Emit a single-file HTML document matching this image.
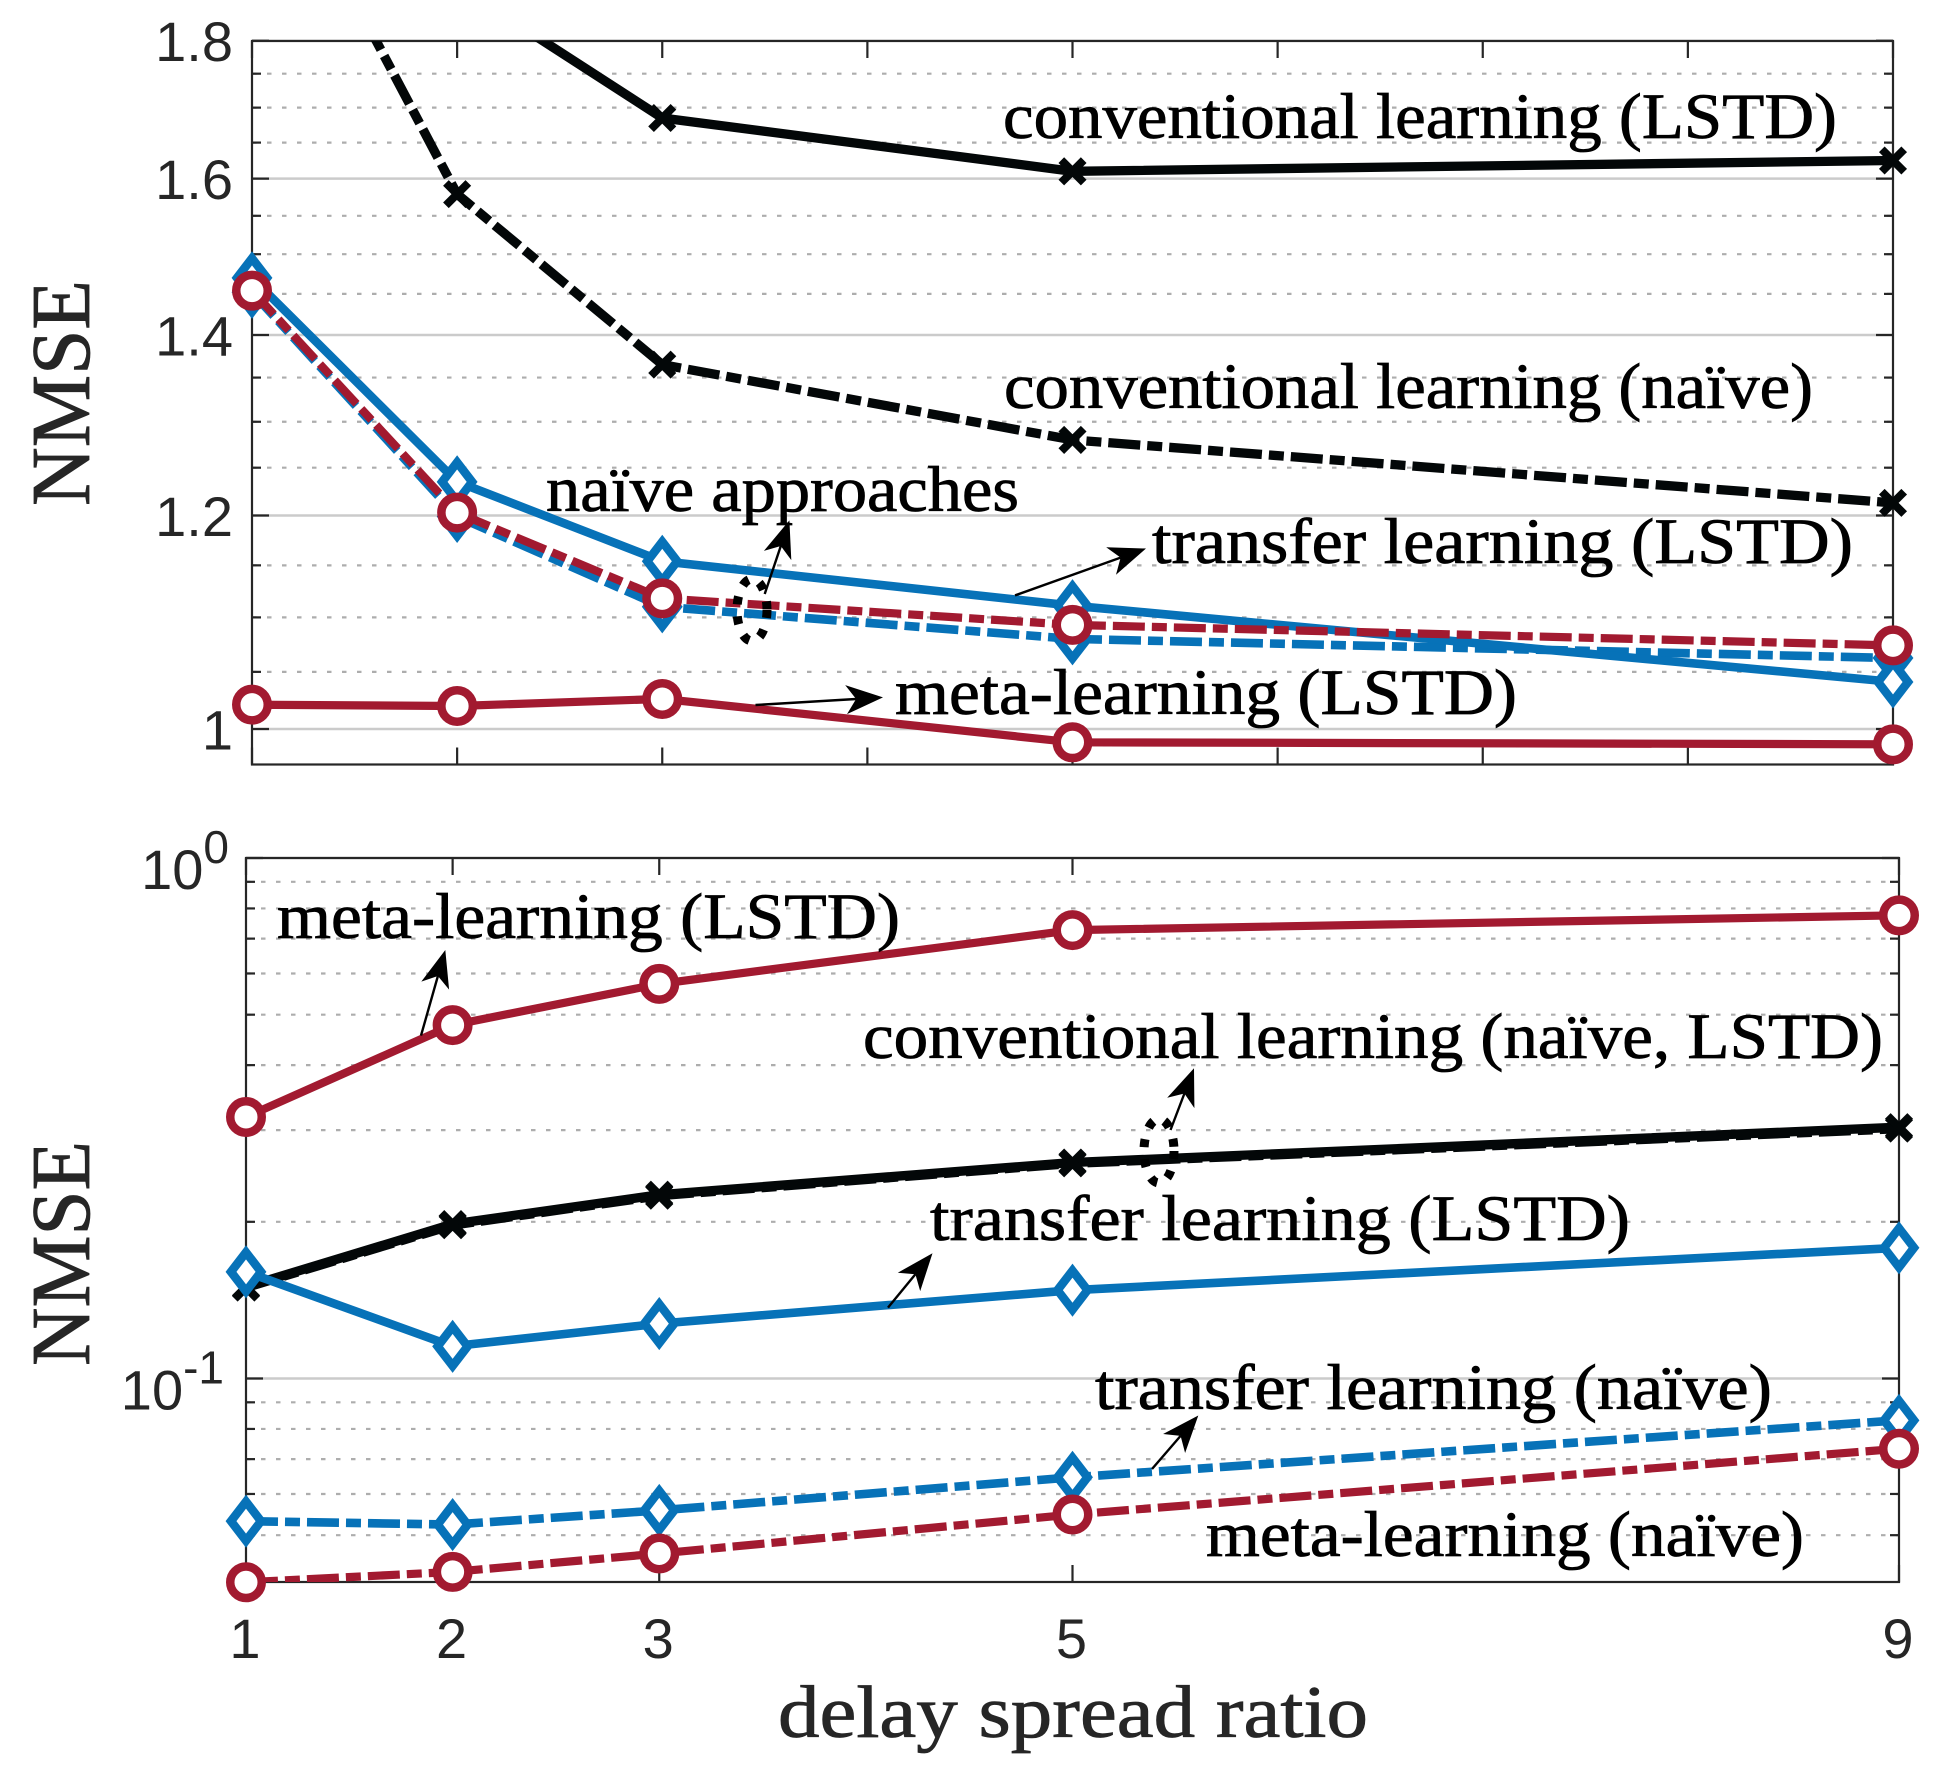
<!DOCTYPE html>
<html lang="en">
<head>
<meta charset="utf-8">
<title>NMSE vs delay spread ratio</title>
<style>
html,body{margin:0;padding:0;background:#fff;}
svg{display:block;}
.cm{font-family:"Liberation Serif","DejaVu Serif",serif;fill:#000;stroke:#000;stroke-width:0.8px;}
.cm-ax{font-family:"Liberation Serif","DejaVu Serif",serif;fill:#262626;stroke:#262626;stroke-width:0.8px;}
.tk{font-family:"Liberation Sans",Arial,sans-serif;fill:#262626;font-size:56px;}
</style>
</head>
<body>
<svg id="chart" xmlns="http://www.w3.org/2000/svg" width="1934" height="1767" viewBox="0 0 1934 1767">
  <rect x="0" y="0" width="1934" height="1767" fill="#ffffff"/>
  <defs>
    <clipPath id="clip-top"><rect x="252" y="41" width="1641" height="724"/></clipPath>
    <clipPath id="clip-bottom"><rect x="246" y="858" width="1653" height="724"/></clipPath>
  </defs>
  <g id="top-panel"></g>
  <g id="bottom-panel"></g>

  <text class="cm-ax" transform="translate(89,506) rotate(-90)" font-size="84" textLength="226" lengthAdjust="spacingAndGlyphs">NMSE</text>
  <text class="cm-ax" transform="translate(89,1366) rotate(-90)" font-size="84" textLength="225" lengthAdjust="spacingAndGlyphs">NMSE</text>
  <text class="cm-ax" x="778" y="1737" font-size="74" textLength="590" lengthAdjust="spacingAndGlyphs">delay spread ratio</text>

  <g>
    <text class="cm" x="1003" y="138" font-size="65" textLength="834" lengthAdjust="spacingAndGlyphs">conventional learning (LSTD)</text>
    <text class="cm" x="1004" y="408" font-size="65" textLength="809" lengthAdjust="spacingAndGlyphs">conventional learning (naïve)</text>
    <text class="cm" x="546" y="511" font-size="65" textLength="473" lengthAdjust="spacingAndGlyphs">naïve approaches</text>
    <text class="cm" x="1152" y="563" font-size="65" textLength="701" lengthAdjust="spacingAndGlyphs">transfer learning (LSTD)</text>
    <text class="cm" x="895" y="714" font-size="65" textLength="622" lengthAdjust="spacingAndGlyphs">meta-learning (LSTD)</text>

    <ellipse cx="752" cy="610" rx="15" ry="31" fill="none" stroke="#000" stroke-width="9" stroke-dasharray="8 12"/>
    <g>
      <line x1="764.7" y1="594" x2="780.8" y2="546" stroke="#000" stroke-width="2.4"/>
      <polygon points="789.4,520.4 791.3,560.1 780.8,546 763.9,550.9" fill="#000"/>
    </g>
    <g>
      <line x1="755.5" y1="705" x2="856.1" y2="699" stroke="#000" stroke-width="2.4"/>
      <polygon points="883,697.4 847,714.1 856.1,699 845.2,685.1" fill="#000"/>
    </g>
    <g>
      <line x1="1015" y1="595.4" x2="1120.6" y2="557.6" stroke="#000" stroke-width="2.4"/>
      <polygon points="1146,548.5 1116,574.7 1120.6,557.6 1106.2,547.3" fill="#000"/>
    </g>
  </g>

  <g>
    <text class="cm" x="277" y="938" font-size="65" textLength="623" lengthAdjust="spacingAndGlyphs">meta-learning (LSTD)</text>
    <text class="cm" x="863" y="1058" font-size="65" textLength="1020" lengthAdjust="spacingAndGlyphs">conventional learning (naïve, LSTD)</text>
    <text class="cm" x="930" y="1240" font-size="65" textLength="700" lengthAdjust="spacingAndGlyphs">transfer learning (LSTD)</text>
    <text class="cm" x="1095" y="1409" font-size="65" textLength="677" lengthAdjust="spacingAndGlyphs">transfer learning (naïve)</text>
    <text class="cm" x="1206" y="1556" font-size="65" textLength="598" lengthAdjust="spacingAndGlyphs">meta-learning (naïve)</text>

    <ellipse cx="1159" cy="1151" rx="15" ry="32" fill="none" stroke="#000" stroke-width="9" stroke-dasharray="8 12"/>
    <g>
      <line x1="421" y1="1035.6" x2="437.9" y2="976" stroke="#000" stroke-width="2.4"/>
      <polygon points="445.3,950 449.1,989.6 437.9,976 421.3,981.6" fill="#000"/>
    </g>
    <g>
      <line x1="1170.5" y1="1130" x2="1184.4" y2="1093.5" stroke="#000" stroke-width="2.4"/>
      <polygon points="1194,1068.3 1194.4,1108.1 1184.4,1093.5 1167.2,1097.7" fill="#000"/>
    </g>
    <g>
      <line x1="888" y1="1307.6" x2="915.4" y2="1274.2" stroke="#000" stroke-width="2.4"/>
      <polygon points="932.5,1253.3 920.2,1291.1 915.4,1274.2 897.8,1272.7" fill="#000"/>
    </g>
    <g>
      <line x1="1152" y1="1469" x2="1180.6" y2="1435.9" stroke="#000" stroke-width="2.4"/>
      <polygon points="1198.3,1415.5 1185.1,1453 1180.6,1435.9 1163.1,1434" fill="#000"/>
    </g>
  </g>
</svg>

<script>
// ---------- shared categories ----------
const delayRatios = [1, 2, 3, 5, 9];

// ---------- top panel data (linear NMSE values) ----------
const topXTicks = [1, 2, 3, 4, 5, 6, 7, 8, 9];
const topYMajor = [1, 1.2, 1.4, 1.6, 1.8];
const topYMajorLabels = ['1', '1.2', '1.4', '1.6', '1.8'];
const topYMinor = [1.05, 1.1, 1.15, 1.25, 1.3, 1.35, 1.45, 1.5, 1.55, 1.65, 1.7, 1.75];
const topConventionalLstd = [2.6, 1.887, 1.685, 1.61, 1.625];
const topConventionalNaive = [2.2, 1.579, 1.365, 1.28, 1.213];
const topTransferNaive = [1.452, 1.199, 1.11, 1.08, 1.0625];
const topTransferLstd = [1.47, 1.235, 1.154, 1.111, 1.041];
const topMetaNaive = [1.454, 1.203, 1.118, 1.093, 1.074];
const topMetaLstd = [1.021, 1.0198, 1.026, 0.9887, 0.987];

// ---------- bottom panel data ----------
const bottomXLabels = ['1', '2', '3', '5', '9'];
const bottomYMajor = [1, 0.1];
const bottomYExponents = ['0', '-1'];
const bottomYMinor = [0.9, 0.8, 0.7, 0.6, 0.5, 0.4, 0.3, 0.2, 0.09, 0.08, 0.07, 0.06, 0.05];
const bottomConventionalNaive = [0.1495, 0.197, 0.2245, 0.259, 0.302];
const bottomConventionalLstd = [0.15, 0.198, 0.2255, 0.26, 0.304];
const bottomTransferLstd = [0.1603, 0.1153, 0.1275, 0.1478, 0.1783];
const bottomTransferNaive = [0.0532, 0.0524, 0.0558, 0.0646, 0.0831];
const bottomMetaLstd = [0.318, 0.4775, 0.573, 0.727, 0.776];
const bottomMetaNaive = [0.0406, 0.0425, 0.0461, 0.0548, 0.0733];

// ---------- axis functions ----------
const topBox = {l: 252, r: 1893, t: 41, b: 764.5};
const botBox = {l: 246, r: 1899, t: 858, b: 1582};
function xTop(v) { return topBox.l + (v - 1) * (topBox.r - topBox.l) / 8; }
function yTop(v) { return 729 - 1171 * Math.log(v); }
function xBot(v) { return botBox.l + (v - 1) * (botBox.r - botBox.l) / 8; }
function yBot(v) { return botBox.t - 520.5 * Math.log10(v); }

const NS = 'http://www.w3.org/2000/svg';
const AXIS = '#262626', BLUE = '#0772b8', RED = '#a21a30', BLACK = '#030708';
const DASHDOT = '32 7 15 7';

function mk(tag, attrs, parent) {
  const el = document.createElementNS(NS, tag);
  for (const k in attrs) el.setAttribute(k, attrs[k]);
  parent.appendChild(el);
  return el;
}

function drawFrame(g, box, name, xTicks, xFn, yMajor, yMinor, yFn) {
  yMinor.forEach(function (v) {
    const el = mk('line', {x1: box.l, x2: box.r, y1: yFn(v), y2: yFn(v), stroke: '#adadad', 'stroke-width': 2.2, 'stroke-dasharray': '4.5 10.5'}, g);
    
    
  });
  yMajor.forEach(function (v) {
    const el = mk('line', {x1: box.l, x2: box.r, y1: yFn(v), y2: yFn(v), stroke: '#cbcbcb', 'stroke-width': 2.4}, g);
    
    
  });
  const frame = mk('rect', {x: box.l, y: box.t, width: box.r - box.l, height: box.b - box.t, fill: 'none', stroke: AXIS, 'stroke-width': 2.2}, g);
  
  
  xTicks.forEach(function (v) {
    const t1 = mk('line', {x1: xFn(v), x2: xFn(v), y1: box.b, y2: box.b - 17, stroke: AXIS, 'stroke-width': 2.2}, g);
    
    
    const t2 = mk('line', {x1: xFn(v), x2: xFn(v), y1: box.t, y2: box.t + 17, stroke: AXIS, 'stroke-width': 2.2}, g);
    
    
  });
  function yTick(v, len, kind) {
    const a = mk('line', {x1: box.l, x2: box.l + len, y1: yFn(v), y2: yFn(v), stroke: AXIS, 'stroke-width': 2.2}, g);
    
    
    const b = mk('line', {x1: box.r, x2: box.r - len, y1: yFn(v), y2: yFn(v), stroke: AXIS, 'stroke-width': 2.2}, g);
    
    
  }
  yMajor.forEach(function (v) { yTick(v, 17, 'major'); });
  yMinor.forEach(function (v) { yTick(v, 9, 'minor'); });
}

function drawSeries(g, box, clip, name, xs, ys, xFn, yFn, color, dashed, marker) {
  const lw = marker === 'x' ? 9.3 : (marker === 'diamond' ? 8.6 : 8.2);
  const pts = xs.map(function (x, i) { return xFn(x).toFixed(1) + ',' + yFn(ys[i]).toFixed(1); }).join(' ');
  const line = mk('polyline', {points: pts, fill: 'none', stroke: color, 'stroke-width': lw, 'stroke-linejoin': 'miter', 'clip-path': 'url(#' + clip + ')'}, g);
  if (dashed) line.setAttribute('stroke-dasharray', DASHDOT);
  
  
  xs.forEach(function (x, i) {
    const px = xFn(x), py = yFn(ys[i]);
    if (py < box.t - 2 || py > box.b + 4) return;
    let m;
    if (marker === 'circle') {
      m = mk('circle', {cx: px, cy: py, r: 15.75, fill: '#ffffff', stroke: color, 'stroke-width': 8.5}, g);
    } else if (marker === 'diamond') {
      m = mk('polygon', {points: px + ',' + (py - 19.5) + ' ' + (px + 15) + ',' + py + ' ' + px + ',' + (py + 19.5) + ' ' + (px - 15) + ',' + py, fill: '#ffffff', stroke: color, 'stroke-width': 8.6, 'stroke-miterlimit': 10}, g);
    } else {
      const s = 11.2;
      m = mk('path', {d: 'M' + (px - s) + ' ' + (py - s) + 'L' + (px + s) + ' ' + (py + s) + 'M' + (px - s) + ' ' + (py + s) + 'L' + (px + s) + ' ' + (py - s), fill: 'none', stroke: color, 'stroke-width': 8}, g);
    }
    
    
  });
}

// ---------- top panel ----------
const topG = document.getElementById('top-panel');
drawFrame(topG, topBox, 'top', topXTicks, xTop, topYMajor, topYMinor, yTop);
topYMajor.forEach(function (v, i) {
  const t = mk('text', {x: 233, y: yTop(v) + 20.5, 'text-anchor': 'end', 'class': 'tk'}, topG);
  t.textContent = topYMajorLabels[i];
  
  
});
drawSeries(topG, topBox, 'clip-top', 'top-conventional-naive', delayRatios, topConventionalNaive, xTop, yTop, BLACK, true, 'x');
drawSeries(topG, topBox, 'clip-top', 'top-conventional-lstd', delayRatios, topConventionalLstd, xTop, yTop, BLACK, false, 'x');
drawSeries(topG, topBox, 'clip-top', 'top-transfer-naive', delayRatios, topTransferNaive, xTop, yTop, BLUE, true, 'diamond');
drawSeries(topG, topBox, 'clip-top', 'top-transfer-lstd', delayRatios, topTransferLstd, xTop, yTop, BLUE, false, 'diamond');
drawSeries(topG, topBox, 'clip-top', 'top-meta-naive', delayRatios, topMetaNaive, xTop, yTop, RED, true, 'circle');
drawSeries(topG, topBox, 'clip-top', 'top-meta-lstd', delayRatios, topMetaLstd, xTop, yTop, RED, false, 'circle');

// ---------- bottom panel ----------
const botG = document.getElementById('bottom-panel');
drawFrame(botG, botBox, 'bottom', delayRatios, xBot, bottomYMajor, bottomYMinor, yBot);
delayRatios.forEach(function (v, i) {
  const t = mk('text', {x: xBot(v) - 1, y: 1658, 'text-anchor': 'middle', 'class': 'tk'}, botG);
  t.textContent = bottomXLabels[i];
  
  
});
bottomYMajor.forEach(function (v, i) {
  const exp = bottomYExponents[i];
  const t = mk('text', {x: exp.charAt(0) === '-' ? 224 : 229, y: yBot(v) + 31, 'text-anchor': 'end', 'class': 'tk'}, botG);
  const base = mk('tspan', {}, t);
  base.textContent = '10';
  const sup = mk('tspan', {dy: -26, 'font-size': 46}, t);
  sup.textContent = exp;
  
  
});
drawSeries(botG, botBox, 'clip-bottom', 'bottom-conventional-naive', delayRatios, bottomConventionalNaive, xBot, yBot, BLACK, true, 'x');
drawSeries(botG, botBox, 'clip-bottom', 'bottom-conventional-lstd', delayRatios, bottomConventionalLstd, xBot, yBot, BLACK, false, 'x');
drawSeries(botG, botBox, 'clip-bottom', 'bottom-transfer-naive', delayRatios, bottomTransferNaive, xBot, yBot, BLUE, true, 'diamond');
drawSeries(botG, botBox, 'clip-bottom', 'bottom-transfer-lstd', delayRatios, bottomTransferLstd, xBot, yBot, BLUE, false, 'diamond');
drawSeries(botG, botBox, 'clip-bottom', 'bottom-meta-naive', delayRatios, bottomMetaNaive, xBot, yBot, RED, true, 'circle');
drawSeries(botG, botBox, 'clip-bottom', 'bottom-meta-lstd', delayRatios, bottomMetaLstd, xBot, yBot, RED, false, 'circle');
</script>
</body>
</html>
